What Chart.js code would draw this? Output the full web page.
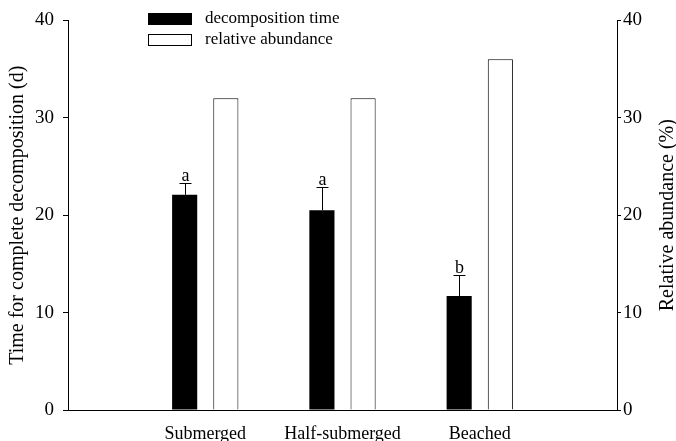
<!DOCTYPE html>
<html>
<head>
<meta charset="utf-8">
<script src="https://cdn.jsdelivr.net/npm/chart.js@4.4.1/dist/chart.umd.min.js"></script>
<style>
  html, body { margin: 0; padding: 0; background: #fff; }
  #wrap { width: 676px; height: 441px; }
</style>
</head>
<body>
<div id="wrap"><canvas id="chart" width="676" height="441"></canvas></div>
<script>
const categories = ["Submerged", "Half-submerged", "Beached"];
const decompTime = [22.1, 20.5, 11.7];
const decompErr = [1.2, 2.4, 2.2];
const letters = ["a", "a", "b"];
const abundance = [32, 32, 36];
const yTicks = [0, 10, 20, 30, 40];

// empty slot at each end so the groups sit at 1/4, 2/4, 3/4 of the axis
const pad = arr => [null].concat(arr, [null]);
const labels = pad(categories).map(v => v === null ? "" : v);

const serif = "'Liberation Serif', 'DejaVu Serif', serif";

const overlay = {
    id: "overlay",
    afterDatasetsDraw(chart) {
        const ctx = chart.ctx;
        const y = chart.scales.y;
        const meta = chart.getDatasetMeta(0);
        const vals = pad(decompTime), errs = pad(decompErr), lets = pad(letters);
        ctx.save();
        ctx.strokeStyle = "#000";
        ctx.lineWidth = 1;
        ctx.fillStyle = "#000";
        ctx.font = "18px " + serif;
        ctx.textAlign = "center";
        ctx.textBaseline = "alphabetic";
        meta.data.forEach((bar, i) => {
            if (vals[i] == null) return;
            const x = Math.round(bar.x) + 0.5;
            const top = Math.round(y.getPixelForValue(vals[i] + errs[i])) + 0.5;
            ctx.beginPath();
            ctx.moveTo(x, bar.y);
            ctx.lineTo(x, top);
            ctx.moveTo(x - 6, top);
            ctx.lineTo(x + 6, top);
            ctx.stroke();
            ctx.fillText(lets[i], x, top - 3);
        });

        // legend
        const ds = chart.data.datasets;
        ctx.textAlign = "left";
        ctx.textBaseline = "middle";
        ctx.font = "17px " + serif;
        ds.forEach((d, i) => {
            const by = 13 + i * 21;
            ctx.fillStyle = d.backgroundColor;
            ctx.fillRect(148, by, 44, 12);
            ctx.strokeStyle = "#000";
            ctx.strokeRect(148.5, by + 0.5, 43, 11);
            ctx.fillStyle = "#000";
            ctx.fillText(d.label, 205, by + 6);
        });

        // right axis title, reading bottom to top
        const area = chart.chartArea;
        ctx.font = "20px " + serif;
        ctx.translate(668, (area.top + area.bottom) / 2);
        ctx.rotate(-Math.PI / 2);
        ctx.textAlign = "center";
        ctx.fillText("Relative abundance (%)", 0, 0);
        ctx.restore();
    }
};

const tickFont = { family: serif, size: 19 };
const titleFont = { family: serif, size: 20 };

new Chart(document.getElementById("chart"), {
    type: "bar",
    data: {
        labels: labels,
        datasets: [
            {
                label: "decomposition time",
                data: pad(decompTime),
                backgroundColor: "#000",
                borderColor: "#000",
                borderWidth: 0,
                yAxisID: "y",
                categoryPercentage: 0.6,
                barPercentage: 0.61,
            },
            {
                label: "relative abundance",
                data: pad(abundance),
                backgroundColor: "#fff",
                borderColor: "#000",
                borderWidth: 1,
                yAxisID: "y2",
                categoryPercentage: 0.6,
                barPercentage: 0.61,
            },
        ]
    },
    options: {
        responsive: false,
        animation: false,
        layout: { padding: { top: 18, bottom: 0 } },
        plugins: {
            legend: { display: false },
            tooltip: { enabled: false },
        },
        scales: {
            x: {
                offset: false,
                grid: { display: false },
                border: { display: true, color: "#000", width: 1 },
                ticks: { color: "#000", font: { family: serif, size: 18 }, padding: 5, maxRotation: 0, autoSkip: false },
                afterFit(s) { s.height = 31; },
            },
            y: {
                position: "left",
                min: 0, max: 40,
                afterBuildTicks(s) { s.ticks = yTicks.map(v => ({ value: v })); },
                grid: { drawOnChartArea: false, color: "#000", tickLength: 5 },
                border: { display: true, color: "#000", width: 1 },
                ticks: { color: "#000", font: tickFont, padding: 9 },
                title: { display: true, text: "Time for complete decomposition (d)", color: "#000", font: titleFont, padding: { top: 6, bottom: 0 } },
                afterFit(s) { s.width = 68; },
            },
            y2: {
                position: "right",
                min: 0, max: 40,
                afterBuildTicks(s) { s.ticks = yTicks.map(v => ({ value: v })); },
                grid: { drawOnChartArea: false, color: "#000", tickLength: 4 },
                border: { display: true, color: "#000", width: 1 },
                ticks: { color: "#000", font: tickFont, padding: 2 },
                afterFit(s) { s.width = 59; },
            },
        }
    },
    plugins: [overlay]
});
</script>
</body>
</html>
